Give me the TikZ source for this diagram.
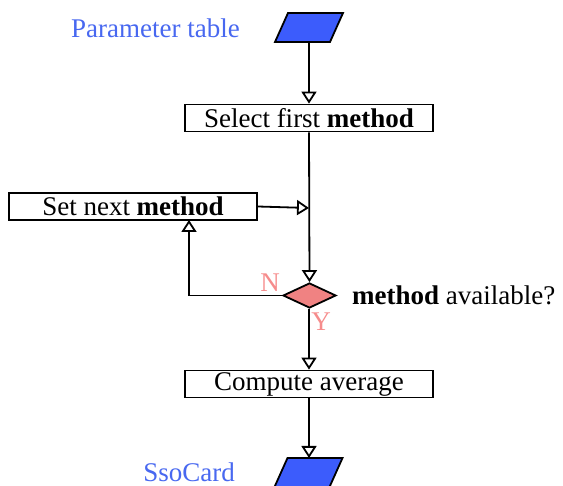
\documentclass[tikz,border=0pt]{standalone}
\usepackage{fontspec}
\setmainfont{Liberation Serif}
\usetikzlibrary{arrows.meta,shapes.geometric}
\definecolor{iofill}{RGB}{60,92,252}
\definecolor{iotext}{RGB}{72,104,240}
\definecolor{decfill}{RGB}{240,130,130}
\definecolor{branch}{RGB}{246,140,140}
\tikzset{
  every node/.style={font=\fontsize{27}{32}\selectfont},
  procbox/.style={draw, line width=1.8pt, minimum width=248pt, minimum height=27pt, inner sep=0pt},
  iobox/.style={draw, line width=1.8pt, fill=iofill, line join=miter},
  decision/.style={diamond, draw, line width=1.8pt, fill=decfill, minimum width=53pt, minimum height=25pt, inner sep=0pt},
  flow/.style={line width=1.8pt, -{Triangle[open, length=12pt, width=15pt, line width=1.8pt]}},
  iolabel/.style={text=iotext, anchor=east, inner sep=0pt},
  brlabel/.style={text=branch, inner sep=0pt}
}
\begin{document}
\begin{tikzpicture}[x=1pt, y=-1pt]
  \useasboundingbox (0,0) rectangle (563,486);
  % parallelogram for the input data
  \coordinate (ptab) at (309,27.5);
  \draw[iobox] (ptab) ++(-34,14.5) -- ++(55,0) -- ++(13,-29) -- ++(-55,0) -- cycle;
  \coordinate (ptabS) at (309,42);
  \node[iolabel] (ptabl) at (240,28) {Parameter table};
  % process boxes and decision
  \node[procbox] (sel) at (309,118) {Select first \textbf{method}};
  \node[procbox] (setn) at (133,206.5) {Set next \textbf{method}};
  \node[decision] (dia) at (309.5,295.5) {};
  \node[anchor=west, inner sep=0pt] (q) at (352,295) {\textbf{method} available?};
  \node[brlabel] (nl) at (270,283) {N};
  \node[brlabel] (yl) at (321,322) {Y};
  \node[procbox] (comp) at (309,384) {Compute average};
  % parallelogram for the output card
  \coordinate (sso) at (308.5,472.5);
  \draw[iobox] (sso) ++(-34,14.5) -- ++(55,0) -- ++(13,-29) -- ++(-55,0) -- cycle;
  \coordinate (ssoN) at (309,458);
  \node[iolabel] (ssol) at (235,472) {SsoCard};
  % connectors
  \coordinate (join) at (309,208);
  \coordinate (back) at (189,220);
  \draw[flow] (ptabS) -- (sel.north);
  \draw[flow] (sel.south) -- (dia.north);
  \draw[flow] (setn.east) -- (join);
  \draw[flow] (dia.west) -| (back);
  \draw[flow] (dia.south -| comp.north) -- (comp.north);
  \draw[flow] (comp.south) -- (ssoN);
\end{tikzpicture}
\end{document}
